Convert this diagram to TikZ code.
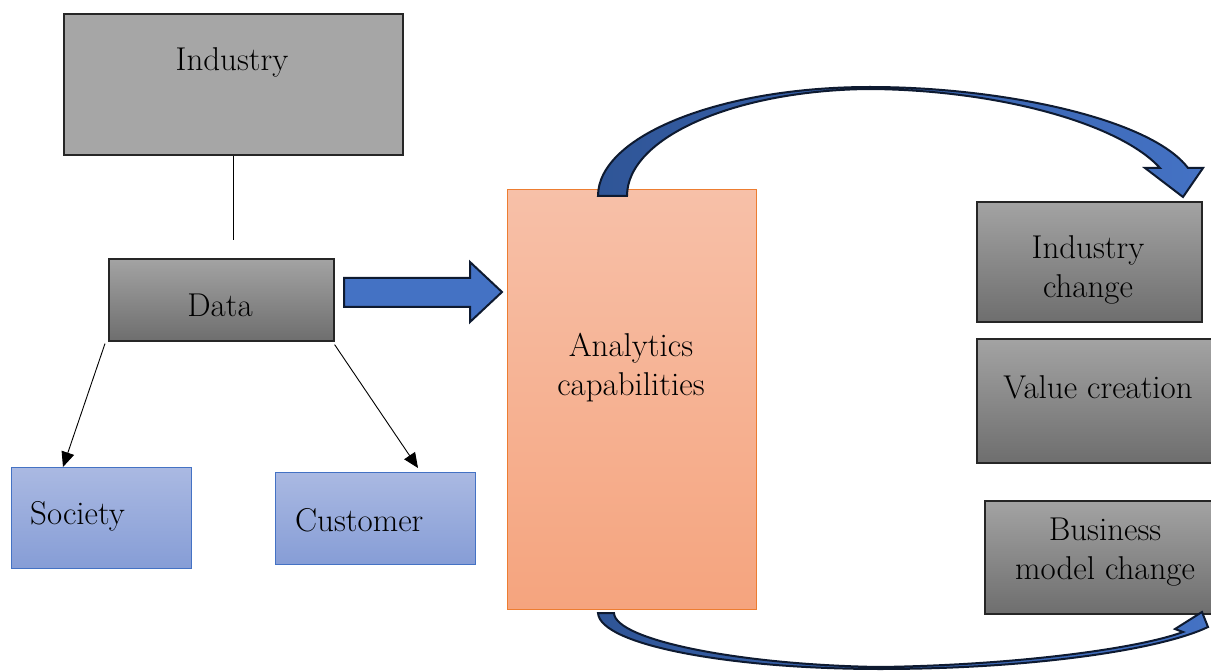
\documentclass[tikz,border=0pt]{standalone}
\usetikzlibrary{arrows.meta,calc}
\definecolor{grayflat}{HTML}{A6A6A6}
\definecolor{graytop}{HTML}{A3A3A3}
\definecolor{graybot}{HTML}{6E6E6E}
\definecolor{bluetop}{HTML}{AAB9E2}
\definecolor{bluebot}{HTML}{869DD6}
\definecolor{blueedge}{HTML}{4472C4}
\definecolor{orangetop}{HTML}{F7C0A8}
\definecolor{orangebot}{HTML}{F5A47E}
\definecolor{orangeedge}{HTML}{ED7D31}
\definecolor{arrowfill}{HTML}{4472C4}
\definecolor{arrowdark}{HTML}{2F5597}
\definecolor{arrowedge}{HTML}{0E1A30}
\tikzset{
  boxbase/.style={rectangle, anchor=north west, inner sep=0pt},
  graybox/.style={boxbase, draw=black!85, line width=1.6pt, top color=graytop, bottom color=graybot},
  bluebox/.style={boxbase, draw=blueedge, line width=1pt, top color=bluetop, bottom color=bluebot},
  orangebox/.style={boxbase, draw=orangeedge, line width=1pt, top color=orangetop, bottom color=orangebot},
  txt/.style={font=\fontsize{33}{39}\selectfont, align=center, inner sep=0pt, text=black},
  thinarrow/.style={line width=0.9pt, -{Triangle[length=15pt,width=13pt]}},
  blockarrow/.style={draw=arrowedge, line width=2pt, line join=miter},
}
\begin{document}
\begin{tikzpicture}[x=1pt,y=-1pt]
\useasboundingbox (0,0) rectangle (1211,671);

% boxes
\node[boxbase, draw=black!85, line width=1.6pt, fill=grayflat, minimum width=339pt, minimum height=141pt] (industry) at (63,13) {};
\node[graybox, minimum width=225pt, minimum height=82pt] (data) at (108,258) {};
\node[bluebox, minimum width=180pt, minimum height=101pt] (society) at (11,467) {};
\node[bluebox, minimum width=200pt, minimum height=92pt] (customer) at (275,472) {};
\node[orangebox, minimum width=249pt, minimum height=420pt] (analytics) at (507,189) {};
\node[graybox, minimum width=225pt, minimum height=120pt] (indchange) at (976,201) {};
\node[graybox, minimum width=240pt, minimum height=124pt] (value) at (976,338) {};
\node[graybox, minimum width=232pt, minimum height=113pt] (business) at (984,500) {};

% texts
\node[txt] (industry-t) at (232,62) {Industry};
\node[txt] (data-t) at (220,305) {Data};
\node[txt, anchor=west] (society-t) at (30,516) {Society};
\node[txt, anchor=west] (customer-t) at (295,520) {Customer};
\node[txt] (analytics-t) at (631,368) {Analytics\\capabilities};
\node[txt] (indchange-t) at (1088,270) {Industry\\change};
\node[txt] (value-t) at (1098,387) {Value creation};
\node[txt] (business-t) at (1105,552) {Business\\model change};

% connectors
\coordinate (lineend) at (232,240);
\draw[line width=0.9pt] (industry.south) -- (industry.south |- lineend);
\coordinate (socin) at (63,467);
\coordinate (cusin) at (418,468);
\draw[thinarrow] ($(data.south west)+(-3,2)$) -- (socin);
\draw[thinarrow] ($(data.south east)+(0,3)$) -- (cusin);

% block arrow Data -> Analytics
\draw[blockarrow, fill=arrowfill] (344,278) -- (470,278) -- (470,262) -- (502,292) -- (470,322) -- (470,307) -- (344,307) -- cycle;

% top curved arrow
\draw[blockarrow, left color=arrowdark, right color=arrowfill]
  (598,196) .. controls (598,136) and (720,87) .. (870,87)
  .. controls (1000,87) and (1150,118) .. (1188,168)
  -- (1203,168) -- (1183,197) -- (1145,168) -- (1160,168)
  .. controls (1120,124) and (1000,90) .. (870,89)
  .. controls (736,90) and (627,137) .. (627,196) -- cycle;

% bottom curved arrow
\draw[blockarrow, left color=arrowdark, right color=arrowfill]
  (598,613) .. controls (600,645) and (730,669) .. (880,669)
  .. controls (1030,669) and (1160,650) .. (1208,627)
  -- (1202,612) -- (1175,629) -- (1183,632)
  .. controls (1140,648) and (1020,665) .. (880,667)
  .. controls (740,665) and (615,640) .. (614,613) -- cycle;
\end{tikzpicture}
\end{document}
